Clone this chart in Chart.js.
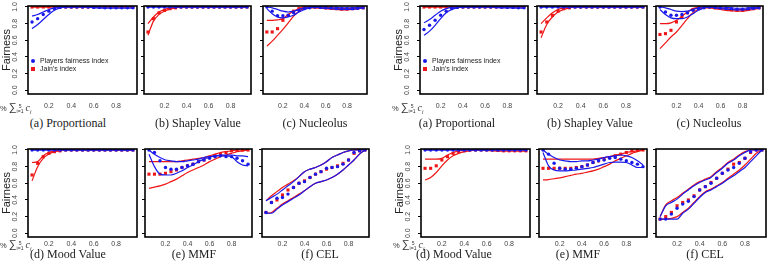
<!DOCTYPE html>
<html>
<head>
<meta charset="utf-8">
<script src="https://cdn.jsdelivr.net/npm/chart.js@4.4.0/dist/chart.umd.min.js"></script>
<style>
  body { margin: 0; width: 771px; height: 272px; background: #fff; position: relative; overflow: hidden;
         font-family: "Liberation Sans", Arial, sans-serif; }
  canvas { position: absolute; }
  .cap { position: absolute; font-family: "Liberation Serif", "Times New Roman", serif; font-size: 12px;
         color: #222; white-space: nowrap; transform: translateX(-50%); line-height: 14px; }
  .leg { position: absolute; font-size: 7px; color: #222; white-space: nowrap; line-height: 8px; }
  .dot { position: absolute; width: 4px; height: 4px; }
  .xl { position: absolute; font-size: 7.5px; color: #333; white-space: nowrap; line-height: 12px; }
  .xl .sig { font-size: 11px; }
  .xl .lims { display: inline-block; vertical-align: middle; font-size: 5px; line-height: 5px; text-align: center; }
  .xl .lims span { display: block; }
  .xl .ci { font-family: "Liberation Serif", serif; font-style: italic; font-size: 10px; }
  .xl .ci sub { font-size: 5.5px; }
</style>
</head>
<body>
<script>
// x positions: share of the total claims
const XS = [0.05, 0.10, 0.15, 0.20, 0.25, 0.30, 0.35, 0.40, 0.45, 0.50, 0.55, 0.60, 0.65, 0.70, 0.75, 0.80, 0.85, 0.90, 0.95];
const XTICKS = [0.2, 0.4, 0.6, 0.8];
const YTICKS = [0, 0.2, 0.4, 0.6, 0.8, 1.0];
const ONES = [1, 1, 1, 1, 1, 1, 1, 1, 1, 1, 1, 1, 1, 1, 1, 1, 1, 1, 1];

// ---- left figure ----
const prop1_fair   = [0.82, 0.86, 0.91, 0.95, 0.98, 0.995, 1, 1, 1, 1, 1, 0.995, 0.995, 0.99, 0.99, 0.99, 0.99, 0.99, 0.99];
const prop1_fairHi = [0.89, 0.91, 0.94, 0.97, 0.99, 1, 1, 1, 1, 1, 1, 1, 1, 1, 1, 1, 1, 1, 1];
const prop1_fairLo = [0.74, 0.79, 0.85, 0.91, 0.96, 0.99, 1, 1, 1, 1, 1, 0.99, 0.99, 0.985, 0.985, 0.985, 0.985, 0.985, 0.985];

const shap1_jain   = [0.70, 0.86, 0.93, 0.96, 0.98, 0.99, 1, 1, 1, 1, 1, 1, 1, 1, 1, 1, 1, 1, 1];
const shap1_jainHi = [0.80, 0.88, 0.94, 0.97, 0.99, 1, 1, 1, 1, 1, 1, 1, 1, 1, 1, 1, 1, 1, 1];
const shap1_jainLo = [0.66, 0.83, 0.91, 0.95, 0.975, 0.99, 1, 1, 1, 1, 1, 1, 1, 1, 1, 1, 1, 1, 1];

const nuc1_fair   = [1, 0.95, 0.895, 0.895, 0.9, 0.93, 0.96, 0.98, 0.99, 1, 0.995, 0.99, 0.99, 0.985, 0.98, 0.98, 0.98, 0.985, 0.99];
const nuc1_fairHi = [1, 0.99, 0.97, 0.95, 0.94, 0.95, 0.97, 0.99, 1, 1, 1, 1, 1, 0.995, 0.99, 0.99, 0.99, 0.995, 1];
const nuc1_fairLo = [0.98, 0.92, 0.88, 0.87, 0.88, 0.9, 0.94, 0.97, 0.99, 1, 0.99, 0.985, 0.98, 0.975, 0.97, 0.97, 0.97, 0.98, 0.99];
const nuc1_jain   = [0.70, 0.70, 0.74, 0.84, 0.9, 0.95, 0.98, 0.99, 1, 1, 0.995, 0.99, 0.985, 0.98, 0.975, 0.975, 0.98, 0.985, 0.99];
const nuc1_jainHi = [0.84, 0.84, 0.845, 0.86, 0.91, 0.95, 0.98, 1, 1, 1, 1, 0.995, 0.99, 0.985, 0.98, 0.98, 0.985, 0.99, 1];
const nuc1_jainLo = [0.53, 0.59, 0.66, 0.73, 0.81, 0.89, 0.95, 0.98, 0.99, 0.99, 0.985, 0.98, 0.975, 0.97, 0.965, 0.965, 0.97, 0.98, 0.99];

const mood1_jain   = [0.70, 0.84, 0.92, 0.96, 0.98, 0.99, 1, 1, 1, 1, 1, 1, 1, 1, 1, 1, 1, 1, 1];
const mood1_jainHi = [0.85, 0.86, 0.93, 0.97, 0.99, 1, 1, 1, 1, 1, 1, 1, 1, 1, 1, 1, 1, 1, 1];
const mood1_jainLo = [0.63, 0.80, 0.90, 0.95, 0.98, 0.99, 1, 1, 1, 1, 1, 1, 1, 1, 1, 1, 1, 1, 1];

const mmf1_fair   = [1, 0.97, 0.87, 0.79, 0.77, 0.77, 0.79, 0.81, 0.83, 0.86, 0.88, 0.90, 0.92, 0.93, 0.92, 0.92, 0.90, 0.87, 0.83];
const mmf1_fairHi = [1, 0.95, 0.91, 0.88, 0.87, 0.86, 0.86, 0.87, 0.88, 0.89, 0.91, 0.92, 0.93, 0.94, 0.94, 0.94, 0.93, 0.93, 0.92];
const mmf1_fairLo = [0.95, 0.80, 0.71, 0.70, 0.70, 0.72, 0.75, 0.79, 0.82, 0.86, 0.89, 0.91, 0.93, 0.93, 0.93, 0.92, 0.86, 0.82, 0.81];
const mmf1_jain   = [0.71, 0.71, 0.71, 0.72, 0.74, 0.76, 0.79, 0.81, 0.83, 0.86, 0.88, 0.91, 0.93, 0.95, 0.97, 0.99, 1, 1, 1];
const mmf1_jainHi = [0.86, 0.86, 0.86, 0.86, 0.86, 0.86, 0.87, 0.88, 0.89, 0.90, 0.91, 0.93, 0.95, 0.97, 0.98, 0.99, 1, 1, 1];
const mmf1_jainLo = [0.54, 0.555, 0.57, 0.59, 0.62, 0.65, 0.69, 0.73, 0.76, 0.79, 0.82, 0.86, 0.89, 0.92, 0.94, 0.96, 0.98, 0.99, 1];

const cel1_fair   = [0.25, 0.37, 0.42, 0.43, 0.47, 0.55, 0.60, 0.62, 0.67, 0.71, 0.74, 0.78, 0.79, 0.80, 0.83, 0.88, 0.97, 0.99, 1];
const cel1_fairHi = [0.39, 0.43, 0.47, 0.52, 0.57, 0.62, 0.68, 0.74, 0.77, 0.79, 0.82, 0.86, 0.91, 0.94, 0.97, 0.99, 1, 1, 1];
const cel1_fairLo = [0.24, 0.24, 0.29, 0.34, 0.38, 0.42, 0.46, 0.51, 0.56, 0.60, 0.62, 0.64, 0.67, 0.71, 0.76, 0.82, 0.88, 0.95, 1];
const cel1_jain   = [0.25, 0.37, 0.40, 0.46, 0.52, 0.55, 0.60, 0.63, 0.67, 0.71, 0.74, 0.77, 0.79, 0.81, 0.84, 0.88, 0.96, 0.99, 1];
const cel1_jainHi = [0.39, 0.45, 0.50, 0.55, 0.59, 0.63, 0.68, 0.74, 0.77, 0.79, 0.82, 0.86, 0.91, 0.94, 0.97, 0.99, 1, 1, 1];
const cel1_jainLo = [0.24, 0.25, 0.30, 0.35, 0.39, 0.43, 0.47, 0.51, 0.56, 0.60, 0.62, 0.64, 0.67, 0.71, 0.76, 0.82, 0.88, 0.95, 1];

// ---- right figure ----
const prop2_fair   = [0.73, 0.78, 0.84, 0.90, 0.95, 0.98, 0.995, 1, 1, 1, 1, 1, 1, 1, 1, 0.995, 0.995, 0.99, 0.99];
const prop2_fairHi = [0.81, 0.85, 0.90, 0.95, 0.98, 0.995, 1, 1, 1, 1, 1, 1, 1, 1, 1, 1, 1, 1, 1];
const prop2_fairLo = [0.66, 0.71, 0.78, 0.86, 0.93, 0.97, 0.99, 1, 1, 1, 1, 1, 1, 0.995, 0.99, 0.99, 0.99, 0.985, 0.985];

const shap2_jain   = [0.70, 0.82, 0.90, 0.95, 0.98, 0.99, 1, 1, 1, 1, 1, 1, 1, 1, 1, 1, 1, 1, 1];
const shap2_jainHi = [0.80, 0.87, 0.93, 0.97, 0.99, 1, 1, 1, 1, 1, 1, 1, 1, 1, 1, 1, 1, 1, 1];
const shap2_jainLo = [0.63, 0.79, 0.88, 0.94, 0.97, 0.99, 1, 1, 1, 1, 1, 1, 1, 1, 1, 1, 1, 1, 1];

const nuc2_fair   = [1, 0.94, 0.90, 0.90, 0.91, 0.93, 0.96, 0.98, 0.99, 1, 0.995, 0.99, 0.985, 0.98, 0.975, 0.975, 0.98, 0.985, 0.99];
const nuc2_fairHi = [1, 0.99, 0.97, 0.95, 0.945, 0.95, 0.97, 0.99, 1, 1, 1, 1, 0.995, 0.99, 0.985, 0.985, 0.99, 0.995, 1];
const nuc2_fairLo = [0.97, 0.91, 0.87, 0.86, 0.86, 0.88, 0.92, 0.96, 0.99, 1, 0.99, 0.98, 0.975, 0.97, 0.965, 0.965, 0.97, 0.98, 0.99];
const nuc2_jain   = [0.67, 0.68, 0.72, 0.82, 0.88, 0.93, 0.97, 0.99, 1, 1, 0.99, 0.985, 0.975, 0.965, 0.96, 0.96, 0.97, 0.98, 0.99];
const nuc2_jainHi = [0.80, 0.80, 0.81, 0.84, 0.89, 0.94, 0.98, 1, 1, 1, 0.995, 0.99, 0.98, 0.975, 0.97, 0.97, 0.975, 0.985, 1];
const nuc2_jainLo = [0.50, 0.57, 0.64, 0.70, 0.78, 0.86, 0.93, 0.97, 0.99, 0.99, 0.98, 0.97, 0.96, 0.955, 0.95, 0.95, 0.96, 0.97, 0.985];

const mood2_jain   = [0.78, 0.78, 0.81, 0.88, 0.92, 0.96, 0.98, 0.99, 1, 1, 1, 1, 1, 0.995, 0.99, 0.99, 0.99, 0.99, 0.99];
const mood2_jainHi = [0.89, 0.89, 0.89, 0.90, 0.94, 0.97, 0.99, 1, 1, 1, 1, 1, 1, 1, 1, 1, 1, 1, 1];
const mood2_jainLo = [0.64, 0.67, 0.73, 0.81, 0.88, 0.93, 0.96, 0.98, 0.99, 1, 1, 0.995, 0.99, 0.985, 0.985, 0.985, 0.985, 0.985, 0.985];

const mmf2_fair   = [1, 0.95, 0.84, 0.78, 0.77, 0.77, 0.78, 0.80, 0.82, 0.85, 0.87, 0.88, 0.90, 0.91, 0.89, 0.87, 0.85, 0.83, 0.80];
const mmf2_fairHi = [1, 0.95, 0.91, 0.88, 0.87, 0.86, 0.86, 0.87, 0.87, 0.88, 0.89, 0.91, 0.92, 0.93, 0.94, 0.93, 0.91, 0.87, 0.82];
const mmf2_fairLo = [0.97, 0.81, 0.76, 0.75, 0.75, 0.755, 0.76, 0.77, 0.78, 0.79, 0.81, 0.83, 0.85, 0.855, 0.855, 0.85, 0.82, 0.79, 0.79];
const mmf2_jain   = [0.78, 0.78, 0.78, 0.78, 0.78, 0.78, 0.79, 0.80, 0.82, 0.85, 0.87, 0.89, 0.91, 0.93, 0.95, 0.97, 0.99, 1, 1];
const mmf2_jainHi = [0.89, 0.89, 0.89, 0.89, 0.89, 0.89, 0.89, 0.89, 0.89, 0.89, 0.90, 0.91, 0.92, 0.94, 0.95, 0.97, 0.98, 0.99, 1];
const mmf2_jainLo = [0.64, 0.645, 0.655, 0.665, 0.68, 0.695, 0.71, 0.72, 0.735, 0.75, 0.77, 0.80, 0.83, 0.87, 0.90, 0.93, 0.96, 0.98, 1];

const cel2_fair   = [0.17, 0.17, 0.23, 0.30, 0.35, 0.385, 0.44, 0.52, 0.56, 0.60, 0.66, 0.72, 0.76, 0.79, 0.84, 0.90, 0.98, 1, 1];
const cel2_fairHi = [0.20, 0.33, 0.37, 0.41, 0.47, 0.52, 0.57, 0.61, 0.64, 0.67, 0.73, 0.78, 0.84, 0.88, 0.93, 0.97, 1, 1, 1];
const cel2_fairLo = [0.17, 0.17, 0.17, 0.17, 0.24, 0.29, 0.36, 0.43, 0.49, 0.52, 0.56, 0.60, 0.65, 0.69, 0.74, 0.79, 0.86, 0.93, 1];
const cel2_jain   = [0.17, 0.20, 0.25, 0.33, 0.37, 0.40, 0.45, 0.52, 0.56, 0.61, 0.66, 0.72, 0.77, 0.83, 0.85, 0.90, 0.97, 1, 1];
const cel2_jainHi = [0.20, 0.34, 0.39, 0.43, 0.48, 0.53, 0.58, 0.62, 0.65, 0.68, 0.74, 0.79, 0.85, 0.89, 0.94, 0.98, 1, 1, 1];
const cel2_jainLo = [0.17, 0.17, 0.18, 0.20, 0.25, 0.30, 0.37, 0.44, 0.50, 0.53, 0.57, 0.61, 0.66, 0.71, 0.76, 0.82, 0.89, 0.96, 1];

const BLUE = "rgb(25,25,235)";
const RED = "rgb(238,22,22)";
Chart.defaults.font.family = '"Liberation Sans", Arial, sans-serif';

// row: gap from box bottom to x labels and caption centre
const ROWS = [{ lab: 12.5, cap: 29 }, { lab: 7, cap: 17 }];

const panels = [
  // left figure
  { x: 28, y: 6, w: 110, h: 88, row: 0, ylab: true, legend: true, cap: "(a) Proportional", capX: 68,
    s: [prop1_fair, prop1_fairHi, prop1_fairLo, ONES, ONES, ONES] },
  { x: 144, y: 6, w: 108, h: 88, row: 0, cap: "(b) Shapley Value", capX: 198,
    s: [ONES, ONES, ONES, shap1_jain, shap1_jainHi, shap1_jainLo] },
  { x: 263, y: 6, w: 105, h: 88, row: 0, cap: "(c) Nucleolus", capX: 315,
    s: [nuc1_fair, nuc1_fairHi, nuc1_fairLo, nuc1_jain, nuc1_jainHi, nuc1_jainLo] },
  { x: 28, y: 149, w: 110, h: 88, row: 1, ylab: true, cap: "(d) Mood Value", capX: 68,
    s: [ONES, ONES, ONES, mood1_jain, mood1_jainHi, mood1_jainLo] },
  { x: 145, y: 149, w: 108, h: 88, row: 1, cap: "(e) MMF", capX: 194,
    s: [mmf1_fair, mmf1_fairHi, mmf1_fairLo, mmf1_jain, mmf1_jainHi, mmf1_jainLo] },
  { x: 262, y: 149, w: 108, h: 88, row: 1, cap: "(f) CEL", capX: 320,
    s: [cel1_fair, cel1_fairHi, cel1_fairLo, cel1_jain, cel1_jainHi, cel1_jainLo] },
  // right figure
  { x: 420, y: 6, w: 109, h: 88, row: 0, ylab: true, legend: true, cap: "(a) Proportional", capX: 457,
    s: [prop2_fair, prop2_fairHi, prop2_fairLo, ONES, ONES, ONES] },
  { x: 537, y: 6, w: 111, h: 88, row: 0, cap: "(b) Shapley Value", capX: 590,
    s: [ONES, ONES, ONES, shap2_jain, shap2_jainHi, shap2_jainLo] },
  { x: 656, y: 6, w: 108, h: 88, row: 0, cap: "(c) Nucleolus", capX: 709,
    s: [nuc2_fair, nuc2_fairHi, nuc2_fairLo, nuc2_jain, nuc2_jainHi, nuc2_jainLo] },
  { x: 421, y: 149, w: 110, h: 88, row: 1, ylab: true, cap: "(d) Mood Value", capX: 454,
    s: [ONES, ONES, ONES, mood2_jain, mood2_jainHi, mood2_jainLo] },
  { x: 539, y: 149, w: 109, h: 88, row: 1, cap: "(e) MMF", capX: 578,
    s: [mmf2_fair, mmf2_fairHi, mmf2_fairLo, mmf2_jain, mmf2_jainHi, mmf2_jainLo] },
  { x: 656, y: 149, w: 111, h: 88, row: 1, cap: "(f) CEL", capX: 705,
    s: [cel2_fair, cel2_fairHi, cel2_fairLo, cel2_jain, cel2_jainHi, cel2_jainLo] }
];

const pts = arr => XS.map((x, i) => ({ x: x, y: arr[i] }));

const boxPlugin = {
  id: "box",
  afterDraw(chart) {
    const a = chart.chartArea, ctx = chart.ctx;
    ctx.save();
    ctx.strokeStyle = "#000";
    ctx.lineWidth = 1.6;
    ctx.strokeRect(a.left, a.top, a.right - a.left, a.bottom - a.top);
    ctx.restore();
  }
};

// R style axis labels: y labels turned along the axis, x labels under the box
const axisLabels = {
  id: "axisLabels",
  afterDraw(chart) {
    const o = chart.options.plugins.axisLabels;
    const a = chart.chartArea, ctx = chart.ctx;
    ctx.save();
    ctx.fillStyle = "#444";
    ctx.font = '7px "Liberation Sans", Arial, sans-serif';
    ctx.textAlign = "center";
    ctx.textBaseline = "middle";
    XTICKS.forEach(v => {
      ctx.fillText(v.toFixed(1), chart.scales.x.getPixelForValue(v), a.bottom + o.lab);
    });
    if (o.ylab) {
      YTICKS.forEach(v => {
        ctx.save();
        ctx.translate(a.left - 13, chart.scales.y.getPixelForValue(v));
        ctx.rotate(-Math.PI / 2);
        ctx.fillText(v.toFixed(1), 0, 0);
        ctx.restore();
      });
    }
    ctx.restore();
  }
};

function makePanel(p) {
  const padL = 28, padT = 6, padB = 18, padR = 3;
  const row = ROWS[p.row];
  const cv = document.createElement("canvas");
  cv.width = p.w + padL + padR;
  cv.height = p.h + padT + padB;
  cv.style.left = (p.x - padL) + "px";
  cv.style.top = (p.y - padT) + "px";
  document.body.appendChild(cv);

  const line = (arr, color) => ({
    data: pts(arr), showLine: true, borderColor: color, borderWidth: 1.2,
    pointRadius: 0, cubicInterpolationMode: "monotone", fill: false
  });
  const marks = (arr, color, style, r) => ({
    data: pts(arr), showLine: false, pointStyle: style, pointRadius: r,
    pointBackgroundColor: color, pointBorderColor: color, pointBorderWidth: 0
  });

  new Chart(cv, {
    type: "line",
    data: {
      datasets: [
        marks(p.s[0], BLUE, "circle", 1.7),
        line(p.s[1], BLUE),
        line(p.s[2], BLUE),
        marks(p.s[3], RED, "rect", 2.2),
        line(p.s[4], RED),
        line(p.s[5], RED)
      ]
    },
    options: {
      responsive: false,
      animation: false,
      devicePixelRatio: 1,
      layout: { padding: { left: 0, top: padT, right: padR, bottom: 0 } },
      plugins: {
        legend: { display: false }, tooltip: { enabled: false },
        axisLabels: { ylab: !!p.ylab, lab: row.lab }
      },
      scales: {
        x: {
          type: "linear", min: 0.014, max: 0.986,
          afterBuildTicks: s => { s.ticks = XTICKS.map(v => ({ value: v })); },
          afterFit: s => { s.height = padB; },
          grid: { display: false }, border: { display: false },
          ticks: { display: false }
        },
        y: {
          min: -0.045, max: 1.012,
          afterBuildTicks: s => { s.ticks = YTICKS.map(v => ({ value: v })); },
          afterFit: s => { s.width = padL; },
          grid: { display: true, drawOnChartArea: false, drawTicks: true, tickLength: 3, color: "#000", lineWidth: 1 },
          border: { display: false },
          ticks: { display: false },
          title: { display: !!p.ylab, text: "Fairness", padding: 0, color: "#222", font: { size: 11 } }
        }
      }
    },
    plugins: [boxPlugin, axisLabels]
  });

  const cap = document.createElement("div");
  cap.className = "cap";
  cap.textContent = p.cap;
  cap.style.left = p.capX + "px";
  cap.style.top = (p.y + p.h + row.cap - 7) + "px";
  document.body.appendChild(cap);

  if (p.ylab) {
    const xl = document.createElement("div");
    xl.className = "xl";
    xl.innerHTML = '% <span class="sig">\u2211</span><span class="lims"><span>5</span><span>i=1</span></span> <span class="ci">c<sub>i</sub></span>';
    xl.style.left = (p.x - 28) + "px";
    xl.style.top = (p.y + p.h + row.lab - 6) + "px";
    document.body.appendChild(xl);
  }

  if (p.legend) {
    const items = [["Players fairness index", BLUE, "50%", 61], ["Jain's index", RED, "0", 69]];
    items.forEach(([txt, col, rad, cy]) => {
      const d = document.createElement("div");
      d.className = "dot";
      d.style.background = col;
      d.style.borderRadius = rad;
      d.style.left = (p.x + 3) + "px";
      d.style.top = (cy - 2) + "px";
      document.body.appendChild(d);
      const t = document.createElement("div");
      t.className = "leg";
      t.textContent = txt;
      t.style.left = (p.x + 12) + "px";
      t.style.top = (cy - 4) + "px";
      document.body.appendChild(t);
    });
  }
}

panels.forEach(makePanel);
</script>
</body>
</html>
